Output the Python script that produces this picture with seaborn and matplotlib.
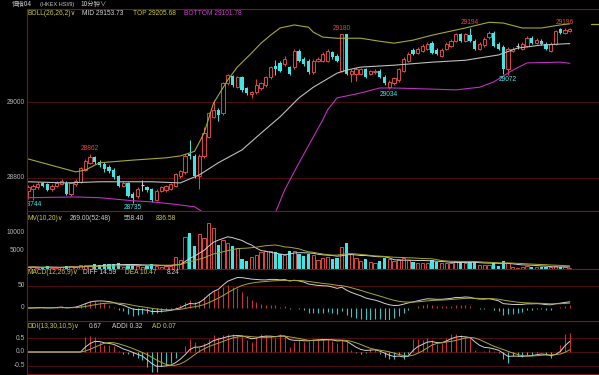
import numpy as np
import pandas as pd
import matplotlib
matplotlib.use("Agg")
import matplotlib.pyplot as plt
import matplotlib.transforms as mtrans
from matplotlib.lines import Line2D
import seaborn as sns

# ---------------- data ----------------
opens = [28766,28770,28776,28786,28784,28770,28778,28785,28788,28757,
         28784,28790,28822,28840,28854,28842,28838,28830,28822,28805,
         28780,28787,28758,28752,28782,28776,28771,28742,28766,28768,
         28772,28779,28805,28815,28862,28857,28805,28857,28909,28961,
         28979,28971,29049,29068,29040,29065,29036,29021,29026,29036,
         29044,29065,29094,29104,29101,29091,29091,29135,29114,29109,
         29079,29109,29109,29109,29131,29122,29083,29178,29075,29075,
         29075,29086,29075,29078,29083,29066,29040,29049,29057,29083,
         29109,29138,29130,29135,29140,29156,29138,29122,29140,29148,
         29161,29179,29161,29176,29161,29140,29150,29170,29183,29153,
         29145,29088,29135,29148,29140,29148,29169,29156,29161,29153,
         29135,29153,29192,29183,29188]
closes = [28776,28778,28785,28780,28769,28779,28787,28792,28758,28787,
          28793,28825,28845,28855,28842,28834,28823,28818,28802,28779,
          28788,28753,28748,28771,28782,28768,28742,28766,28776,28778,
          28785,28810,28818,28857,28857,28805,28857,28919,28971,28979,
          28966,29049,29070,29044,29065,29031,29023,29026,29044,29049,
          29065,29091,29088,29083,29112,29075,29135,29109,29101,29079,
          29109,29114,29127,29135,29118,29109,29178,29075,29083,29088,
          29086,29066,29081,29083,29066,29049,29053,29062,29086,29114,
          29127,29127,29140,29148,29153,29130,29127,29138,29153,29161,
          29179,29161,29179,29161,29140,29153,29166,29183,29148,29140,
          29088,29140,29140,29148,29153,29169,29156,29164,29153,29140,
          29153,29187,29182,29191,29193]
highs = [28782,28784,28790,28790,28788,28784,28792,28797,28792,28790,
         28798,28829,28850,28862,28858,28846,28842,28834,28825,28808,
         28792,28790,28762,28775,28795,28780,28774,28770,28780,28782,
         28788,28813,28822,28862,28900,28862,28862,28935,28975,29005,
         28984,29052,29075,29072,29069,29069,29040,29030,29060,29053,
         29069,29095,29110,29108,29120,29095,29139,29140,29118,29112,
         29113,29118,29131,29139,29135,29126,29180,29180,29088,29092,
         29090,29090,29085,29087,29087,29070,29057,29066,29090,29118,
         29131,29142,29144,29152,29157,29160,29142,29142,29157,29165,
         29183,29183,29183,29194,29165,29157,29170,29187,29187,29157,
         29149,29144,29144,29155,29157,29173,29173,29168,29165,29157,
         29157,29190,29195,29196,29195]
lows = [28744,28742,28772,28776,28765,28766,28775,28781,28755,28752,
        28780,28787,28818,28836,28838,28830,28815,28812,28798,28775,
        28776,28750,28735,28748,28765,28764,28738,28739,28762,28764,
        28768,28776,28801,28810,28850,28800,28771,28852,28905,28958,
        28950,28966,29044,29040,29036,29026,29018,29010,29022,29032,
        29040,29060,29070,29078,29096,29070,29086,29105,29096,29075,
        29075,29105,29105,29105,29114,29105,29079,29070,29053,29055,
        29070,29062,29070,29074,29062,29044,29034,29045,29053,29079,
        29105,29123,29126,29131,29136,29126,29123,29118,29136,29144,
        29157,29157,29157,29157,29136,29136,29146,29166,29144,29136,
        29074,29072,29131,29140,29136,29144,29152,29152,29149,29136,
        29131,29149,29178,29180,29185]
volumes = [500,600,400,350,700,400,300,450,900,800,500,
           1200,1000,1100,1300,1200,1400,1300,1400,1500,
           600,1400,1300,700,500,800,1300,900,600,700,800,
           3400,2400,8700,9800,6300,9500,8400,12500,11100,
           6500,7900,7100,6300,5800,2700,2300,3300,3700,4600,
           4800,5000,4600,4100,3700,4800,5000,4200,
           3500,4000,3800,2500,3000,3200,2800,3000,6000,7000,
           4000,3000,2200,2600,1800,1500,2300,3000,2800,2200,
           2600,3000,2500,1800,1500,1600,1700,2400,1800,1600,
           1700,1500,2200,1800,1600,2000,1900,
           1100,1000,1200,1700,900,2200,1600,500,400,547,
           700,500,500,450,600,500,900,600,565,269]

# Bollinger band lines (candle index, value)
boll_top_idx = [0,5,10,12,15,22,29,32,35,37,39,42,44,47,49,51,53,56,59,60,62,65,70,74,77,81,85,92,97,100,104,108,112,114]
boll_top = [28850,28833,28816,28821,28840,28847,28853,28858,28870,28918,28997,29058,29092,29129,29155,29176,
            29195,29203,29197,29184,29171,29168,29168,29160,29155,29163,29176,29195,29210,29208,29195,29195,29203,29206]
boll_mid_idx = [0,8,15,26,32,36,40,45,49,53,57,60,65,67,70,77,85,92,99,103,108,114]
boll_mid = [28790,28787,28790,28790,28787,28808,28840,28874,28918,28961,29011,29039,29076,29084,29092,
            29097,29105,29110,29124,29142,29150,29154]
boll_bot_idx = [0,10,15,22,26,30,35,37,39,42,45,49,52,54,57,62,63,65,67,70,74,77,85,90,95,98,102,105,112,114]
boll_bot = [28748,28750,28748,28740,28737,28732,28724,28708,28650,28611,28598,28624,28708,28769,28840,28953,
            28979,29011,29016,29024,29037,29037,29034,29032,29039,29053,29084,29103,29105,29102]

# extreme labels: (candle index, text, high/low)
peak_labels = [(13, "28862", "high"), (22, "28735", "low"), (66, "29180", "high"),
               (76, "29034", "low"), (93, "29194", "high"), (101, "29072", "low"),
               (113, "29196", "high")]
first_low_label = "28744"

price_ticks = [29000, 28800]
vol_ticks = [10000, 5000]
macd_ticks = [50, 0]
ddi_ticks = [0.5, 0.0, -0.5]

# ---------------- styling ----------------
RED = "#e04646"
CYAN = "#3ee6e6"
WHITE = "#d2d2d2"
OLIVE = "#c8c83c"
OLIVE_LINE = "#a8a830"
MAGENTA = "#c030c0"
GRID = "#5a1010"
SEP = "#821414"
TICK = "#b4b4b4"
FS = 4.8

sns.set_theme(style="dark", rc={"figure.facecolor": "black", "axes.facecolor": "black",
                                "savefig.facecolor": "black"})
plt.rcParams['font.family'] = ['Liberation Sans', 'DejaVu Sans', 'Noto Sans CJK SC']
CJK = ['Noto Sans CJK SC', 'DejaVu Sans']

W, H = 599, 375
fig = plt.figure(figsize=(W / 100, H / 100), dpi=100)


def rect(top, bottom):
    return [27 / W, 1 - bottom / H, 572 / W, (bottom - top) / H]


ax_p = fig.add_axes(rect(9, 211))
ax_v = fig.add_axes(rect(212, 269))
ax_m = fig.add_axes(rect(269, 320))
ax_d = fig.add_axes(rect(320, 374))
axes = [ax_p, ax_v, ax_m, ax_d]
XLIM = (-0.27, 120.15)
for ax in axes:
    ax.set_xlim(*XLIM)
    ax.set_facecolor("black")
    ax.set_xticks([]); ax.set_yticks([])
    for s in ax.spines.values():
        s.set_visible(False)
    ax.grid(False)

ax_p.set_ylim(28713, 29245)
ax_v.set_ylim(0, 15530)
ax_m.set_ylim(-27.3, 88.6)
ax_d.set_ylim(-0.786, 1.143)

o = np.array(opens, float); c = np.array(closes, float)
hi = np.array(highs, float); lo = np.array(lows, float)
vol = np.array(volumes, float)
n = len(c)
x = np.arange(n)
up = c > o
dn = c < o
fl = c == o

# grid lines
for t in price_ticks:
    ax_p.axhline(t, color=GRID, lw=0.6, zorder=0)
ax_m.axhline(50, color=GRID, lw=0.6, zorder=0)
for t in ddi_ticks:
    ax_d.axhline(t, color=GRID, lw=0.6, zorder=0)

# ---------------- candles ----------------
wcol = np.where(up, RED, np.where(dn, CYAN, WHITE))
ax_p.vlines(x, lo, hi, colors=wcol, lw=0.7, zorder=2)
bw = 0.72
ax_p.bar(x[up], (c - o)[up], bottom=o[up], width=bw, facecolor="black", edgecolor=RED, linewidth=0.7, zorder=3)
ax_p.bar(x[dn], (o - c)[dn], bottom=c[dn], width=bw, color=CYAN, linewidth=0, zorder=3)
ax_p.hlines(c[fl], x[fl] - bw / 2, x[fl] + bw / 2, colors=WHITE, lw=0.8, zorder=3)

# Bollinger lines
sns.lineplot(x=boll_top_idx, y=boll_top, ax=ax_p, color=OLIVE_LINE, lw=0.8, zorder=4)
sns.lineplot(x=boll_mid_idx, y=boll_mid, ax=ax_p, color="#bebebe", lw=0.8, zorder=4)
sns.lineplot(x=boll_bot_idx, y=boll_bot, ax=ax_p, color=MAGENTA, lw=0.8, zorder=4)
ax_p.plot([118.4, 120.15], [boll_top[-1], boll_top[-1]], color=OLIVE_LINE, lw=0.9)

for idx, txt, kind in peak_labels:
    if kind == "high":
        ax_p.annotate(txt, (idx, hi[idx]), xytext=(0, 1.5), textcoords="offset points",
                      ha="center", va="bottom", color=RED, fontsize=FS, zorder=6)
    else:
        ax_p.annotate(txt, (idx, lo[idx]), xytext=(0, -1.2), textcoords="offset points",
                      ha="center", va="top", color=CYAN, fontsize=FS, zorder=6, annotation_clip=False)
# first-candle low label, partly hidden behind the left border
off = mtrans.offset_copy(ax_p.transData, fig=fig, x=0, y=-1.2, units="points")
ax_p.text(0.95, lo[0], first_low_label, transform=off, ha="center", va="top",
          color=CYAN, fontsize=FS, zorder=6, clip_on=True)

# ---------------- volume ----------------
ax_v.bar(x[up | fl], vol[up | fl], width=bw, facecolor="black", edgecolor=RED, linewidth=0.7, zorder=2)
ax_v.bar(x[dn], vol[dn], width=bw, color=CYAN, linewidth=0, zorder=2)
vs = pd.Series(vol)
sns.lineplot(x=x, y=vs.rolling(10, min_periods=1).mean().values, ax=ax_v, color=WHITE, lw=0.7, zorder=3)
sns.lineplot(x=x, y=vs.rolling(20, min_periods=1).mean().values, ax=ax_v, color=OLIVE_LINE, lw=0.7, zorder=3)

# ---------------- MACD ----------------
cs = pd.Series(c)
diff = cs.ewm(span=12, adjust=False).mean() - cs.ewm(span=26, adjust=False).mean()
dea = diff.ewm(span=9, adjust=False).mean()
macd = 2 * (diff - dea)
mcol = np.where(macd.values >= 0, "#c83232", "#32c8c8")
ax_m.vlines(x, 0, macd.values, colors=mcol, lw=0.8, zorder=2)
sns.lineplot(x=x, y=diff.values, ax=ax_m, color=WHITE, lw=0.7, zorder=3)
sns.lineplot(x=x, y=dea.values, ax=ax_m, color=OLIVE_LINE, lw=0.7, zorder=3)

# ---------------- DDI ----------------
hs = pd.Series(hi); ls = pd.Series(lo)
tr = np.maximum((hs - hs.shift()).abs(), (ls - ls.shift()).abs()).fillna(0)
sm = hs + ls; smp = sm.shift()
dmz = pd.Series(np.where(sm <= smp, 0.0, tr)).where(smp.notna(), 0.0)
dmf = pd.Series(np.where(sm >= smp, 0.0, tr)).where(smp.notna(), 0.0)
sz = dmz.rolling(13, min_periods=13).sum()
sf = dmf.rolling(13, min_periods=13).sum()
tot = (sz + sf).replace(0, np.nan)
ddi = ((sz - sf) / tot).fillna(0).values
addi = np.zeros(n)
for i in range(n):
    addi[i] = ddi[i] if i == 0 else (10 * ddi[i] + 20 * addi[i - 1]) / 30
ad = pd.Series(addi).rolling(5, min_periods=1).mean().values
dcol = np.where(ddi >= 0, "#c83232", "#32c8c8")
ax_d.vlines(x, 0, ddi, colors=dcol, lw=0.8, zorder=2)
sns.lineplot(x=x, y=addi, ax=ax_d, color=WHITE, lw=0.7, zorder=3)
sns.lineplot(x=x, y=ad, ax=ax_d, color=OLIVE_LINE, lw=0.7, zorder=3)

for ax in axes:
    if ax.get_legend():
        ax.get_legend().remove()
    ax.set_xlabel(""); ax.set_ylabel("")
    ax.set_xlim(*XLIM)


# ---------------- tick labels ----------------
def yticks(ax, vals, fmt):
    tr_ = mtrans.blended_transform_factory(ax.transAxes, ax.transData)
    for v in vals:
        ax.text(-0.004, v, fmt(v), transform=tr_, ha="right", va="center",
                color=TICK, fontsize=FS, clip_on=False)


yticks(ax_p, price_ticks, lambda v: f"{v:d}")
yticks(ax_v, vol_ticks, lambda v: f"{v:d}")
yticks(ax_m, macd_ticks, lambda v: f"{v:d}")
yticks(ax_d, ddi_ticks, lambda v: f"{v:.1f}")


# ---------------- header texts ----------------
def ftext(px, py, s, color, size=FS, family=None):
    kw = {"family": family} if family else {}
    fig.text(px / W, 1 - py / H, s, color=color, fontsize=size, ha="left", va="center", **kw)


ftext(12, 4.3, "恒指04", "#c8c8c8", 4.6, CJK)
ftext(40, 4.3, "(HKEX HSI/9)", "#c8c8c8", 4.0)
ftext(80, 4.3, "10分钟∨", "#c8c8c8", 4.6, CJK)

ftext(28, 13.5, "BOLL(26,26,2)∨", OLIVE)
ftext(82, 13.5, "MID 29153.73", WHITE)
ftext(133, 13.5, "TOP 29205.68", OLIVE)
ftext(184, 13.5, "BOTTOM 29101.78", "#d23cd2")

ftext(28, 218, "MV(10,20)∨", OLIVE)
ftext(70, 218, "269.00(52:48)", WHITE)
ftext(124, 218, "558.40", WHITE)
ftext(156, 218, "836.58", OLIVE)

ftext(28, 273, "MACD(12,26,9)∨", OLIVE)
ftext(83, 273, "DIFF 14.59", WHITE)
ftext(125, 273, "DEA 10.47", OLIVE)
ftext(167, 273, "8.24", WHITE)

ftext(28, 326, "DDI(13,30,10,5)∨", OLIVE)
ftext(89, 326, "0.67", WHITE)
ftext(112, 326, "ADDI 0.32", WHITE)
ftext(152, 326, "AD 0.07", OLIVE)

# ---------------- separators ----------------
for py in [8.5, 211.5, 268.5, 320.5, 373.5]:
    fig.add_artist(Line2D([27 / W, 1], [1 - py / H, 1 - py / H], color=SEP, lw=0.8,
                          transform=fig.transFigure))
fig.add_artist(Line2D([27.5 / W, 27.5 / W], [1 - 8.5 / H, 0], color=SEP, lw=0.8,
                      transform=fig.transFigure))

fig.savefig("out.png", dpi=100, facecolor="black")
